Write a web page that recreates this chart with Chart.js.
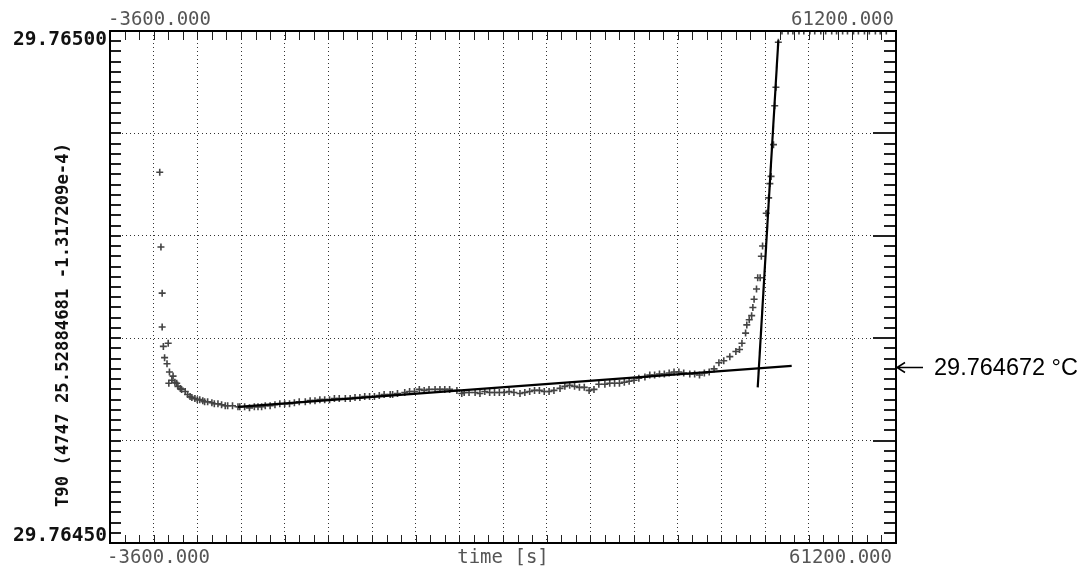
<!DOCTYPE html>
<html>
<head>
<meta charset="utf-8">
<script src="https://cdn.jsdelivr.net/npm/chart.js@4.4.1/dist/chart.umd.min.js"></script>
<style>
  html, body { margin: 0; padding: 0; background: #fff; }
  canvas { display: block; }
</style>
</head>
<body>
<canvas id="c" width="1084" height="567"></canvas>
<script>
// ---- data ----
const obsTime = [
  500, 600, 700, 700, 800, 900, 1100, 1200, 1250, 1300, 1500, 1600, 1750, 1900, 2000, 2200, 2300, 2600, 2800, 3000,
  3150, 3400, 3600, 3800, 4050, 4200, 4450, 4800, 5000, 5300, 5600, 5900, 6100, 6500, 6950, 7100, 7500, 7900, 8300, 8600,
  8900, 9200, 9600, 10000, 10400, 10800, 11200, 11600, 12000, 12500, 12900, 13300, 13700, 14100, 14500, 14900, 15300, 15800, 16200, 16600,
  17000, 17400, 17800, 18200, 18600, 19000, 19500, 19700, 20100, 20700, 21100, 21500, 21900, 22300, 22700, 23200, 23600, 24000, 24400, 25000,
  25400, 25600, 26000, 26500, 26900, 27300, 27700, 28100, 28500, 28900, 29300, 29700, 30200, 30600, 31000, 31400, 31800, 32200, 32600, 33000,
  33500, 33900, 34300, 34700, 35100, 35500, 35900, 36300, 36700, 37200, 37600, 38000, 38400, 38800, 39200, 39600, 40000, 40500, 40900, 41300,
  41700, 42100, 42500, 42900, 43300, 43700, 44200, 44600, 45000, 45400, 45800, 46200, 46600, 47000, 47500, 48000, 48300, 48500, 48800, 48900,
  49100, 49300, 49400, 49500, 49700, 49800, 50000, 50100, 50200, 50500, 50700, 50800, 50900, 51100, 51200, 51300, 51500,
  51800, 52300, 52700, 53200, 53600, 54100, 54500, 55000, 55400, 55900, 56300, 56800, 57200, 57700, 58100, 58600, 59000, 59500, 59900, 60400
];
const obsTemp = [
  29.764862, 29.764789, 29.764744, 29.764711, 29.764692, 29.764681, 29.764675, 29.764695, 29.764656, 29.764667, 29.764659, 29.764663, 29.764657, 29.764656, 29.764653, 29.764651, 29.764650, 29.764648, 29.764645, 29.764643,
  29.764642, 29.764641, 29.764640, 29.764640, 29.764639, 29.764638, 29.764638, 29.764637, 29.764636, 29.764636, 29.764635, 29.764634, 29.764634, 29.764634, 29.764633, 29.764633, 29.764633, 29.764632, 29.764633, 29.764633,
  29.764633, 29.764634, 29.764634, 29.764635, 29.764636, 29.764636, 29.764636, 29.764637, 29.764638, 29.764638, 29.764639, 29.764639, 29.764640, 29.764640, 29.764640, 29.764641, 29.764641, 29.764641, 29.764641, 29.764642,
  29.764642, 29.764643, 29.764643, 29.764643, 29.764644, 29.764645, 29.764645, 29.764645, 29.764646, 29.764647, 29.764648, 29.764648, 29.764650, 29.764649, 29.764650, 29.764650, 29.764650, 29.764650, 29.764650, 29.764649,
  29.764646, 29.764647, 29.764647, 29.764647, 29.764646, 29.764648, 29.764647, 29.764647, 29.764647, 29.764647, 29.764648, 29.764647, 29.764646, 29.764647, 29.764648, 29.764649, 29.764649, 29.764648, 29.764648, 29.764649,
  29.764651, 29.764653, 29.764654, 29.764653, 29.764652, 29.764652, 29.764649, 29.764650, 29.764655, 29.764655, 29.764656, 29.764656, 29.764656, 29.764657, 29.764658, 29.764659, 29.764661, 29.764662, 29.764664, 29.764664,
  29.764665, 29.764665, 29.764666, 29.764667, 29.764667, 29.764666, 29.764665, 29.764665, 29.764664, 29.764666, 29.764667, 29.764670, 29.764676, 29.764678, 29.764682, 29.764687, 29.764689, 29.764695, 29.764705, 29.764713,
  29.764718, 29.764722, 29.764730, 29.764738, 29.764748, 29.764759, 29.764759, 29.764780, 29.764790, 29.764822, 29.764837, 29.764851, 29.764858, 29.764889, 29.764927, 29.764945, 29.764989,
  29.765, 29.765, 29.765, 29.765, 29.765, 29.765, 29.765, 29.765, 29.765, 29.765, 29.765, 29.765, 29.765, 29.765, 29.765, 29.765, 29.765, 29.765, 29.765, 29.765
];
const fitBaseTime = [6950, 52600];
const fitBaseTemp = [29.764633, 29.764673];
const fitRiseTime = [49800, 51500];
const fitRiseTemp = [29.764652, 29.764991];

const xRange = [-3600, 61200];
const yRange = [29.7645, 29.765];
const xTickLabels = ['-3600.000', '61200.000'];
const yTickLabels = ['29.76450', '29.76500'];
const xTitle = 'time [s]';
const yTitle = 'T90 (4747 25.52884681 -1.317209e-4)';
const markedTemp = 29.764672;
const markedLabel = '29.764672 °C';

// ---- chart ----
const toPts = (ts, vs) => ts.map((t, i) => ({ x: t, y: vs[i] }));

const framePlugin = {
  id: 'frame',
  afterDraw(chart) {
    const ctx = chart.ctx;
    const a = chart.chartArea;
    const xs = chart.scales.x, ys = chart.scales.y;
    ctx.save();
    // minor ticks
    ctx.strokeStyle = '#222';
    ctx.lineWidth = 1;
    ctx.beginPath();
    for (let k = 0; k <= 54; k++) {
      const px = Math.round(xs.getPixelForValue(xRange[0] + 1200 * k)) + 0.5;
      ctx.moveTo(px, a.top); ctx.lineTo(px, a.top + 9);
      ctx.moveTo(px, a.bottom); ctx.lineTo(px, a.bottom - 8);
    }
    ctx.stroke();
    ctx.lineWidth = 2;
    ctx.beginPath();
    for (let k = 0; k <= 50; k++) {
      const py = Math.round(ys.getPixelForValue(yRange[0] + 0.00001 * k));
      ctx.moveTo(a.left, py); ctx.lineTo(a.left + 11, py);
      ctx.moveTo(a.right, py); ctx.lineTo(a.right - (k % 10 === 0 ? 23 : 12), py);
    }
    ctx.stroke();
    // frame
    ctx.strokeStyle = '#000';
    ctx.lineWidth = 2;
    ctx.strokeRect(a.left, a.top, a.right - a.left, a.bottom - a.top);

    // tick labels
    ctx.fillStyle = '#555';
    ctx.font = "19px 'DejaVu Sans Mono'";
    ctx.textBaseline = 'middle';
    ctx.textAlign = 'left';
    ctx.fillText(xTickLabels[0], xs.getPixelForValue(xRange[0]) - 2, 20);
    ctx.fillText(xTickLabels[0], xs.getPixelForValue(xRange[0]) - 3, 558);
    ctx.textAlign = 'right';
    ctx.fillText(xTickLabels[1], xs.getPixelForValue(xRange[1]) - 2, 20);
    ctx.fillText(xTickLabels[1], xs.getPixelForValue(xRange[1]) - 4, 558);
    ctx.textAlign = 'center';
    ctx.fillText(xTitle, (a.left + a.right) / 2, 558);

    ctx.fillStyle = '#111';
    ctx.font = "bold 19.5px 'DejaVu Sans Mono'";
    ctx.textAlign = 'right';
    ctx.fillText(yTickLabels[1], a.left - 3, ys.getPixelForValue(yRange[1]) + 9);
    ctx.fillText(yTickLabels[0], a.left - 3, ys.getPixelForValue(yRange[0]) - 7);

    // y title
    ctx.save();
    ctx.translate(64, 325);
    ctx.rotate(-Math.PI / 2);
    ctx.font = "bold 17.3px 'DejaVu Sans Mono'";
    ctx.textAlign = 'center';
    ctx.textBaseline = 'middle';
    ctx.fillText(yTitle, 0, 0);
    ctx.restore();

    // annotation arrow + label
    const ay = Math.round(ys.getPixelForValue(markedTemp)) + 0.5;
    ctx.strokeStyle = '#000';
    ctx.lineWidth = 1.5;
    ctx.beginPath();
    ctx.moveTo(a.right + 1, ay); ctx.lineTo(a.right + 27, ay);
    ctx.moveTo(a.right + 9, ay - 5); ctx.lineTo(a.right + 1, ay); ctx.lineTo(a.right + 9, ay + 5);
    ctx.stroke();
    ctx.fillStyle = '#000';
    ctx.font = "23.5px 'Liberation Sans'";
    ctx.textAlign = 'left';
    ctx.textBaseline = 'middle';
    ctx.fillText(markedLabel, a.right + 38, ay + 1);
    ctx.restore();
  }
};

new Chart(document.getElementById('c'), {
  type: 'scatter',
  data: {
    datasets: [
      { label: 'T90', data: toPts(obsTime, obsTemp), pointStyle: 'cross', pointRadius: 3.5,
        borderColor: '#444', backgroundColor: '#444', borderWidth: 1.6, showLine: false, order: 2 },
      { label: 'fit base', data: toPts(fitBaseTime, fitBaseTemp), showLine: true, pointRadius: 0,
        borderColor: '#000', borderWidth: 2.2, order: 1 },
      { label: 'fit rise', data: toPts(fitRiseTime, fitRiseTemp), showLine: true, pointRadius: 0,
        borderColor: '#000', borderWidth: 2.2, order: 1 }
    ]
  },
  options: {
    responsive: false,
    animation: false,
    devicePixelRatio: 1,
    layout: { padding: { left: 110, right: 188, top: 31, bottom: 24 } },
    plugins: { legend: { display: false }, tooltip: { enabled: false } },
    scales: {
      x: {
        type: 'linear', min: xRange[0], max: xRange[1],
        ticks: { display: false, stepSize: 3600 },
        grid: { color: '#333', lineWidth: 1, drawTicks: false },
        border: { display: false, dash: [1, 3] }
      },
      y: {
        type: 'linear', min: yRange[0], max: yRange[1],
        ticks: { display: false, stepSize: 0.0001 },
        grid: { color: '#333', lineWidth: 1, drawTicks: false },
        border: { display: false, dash: [1, 3] }
      }
    }
  },
  plugins: [framePlugin]
});
</script>
</body>
</html>
